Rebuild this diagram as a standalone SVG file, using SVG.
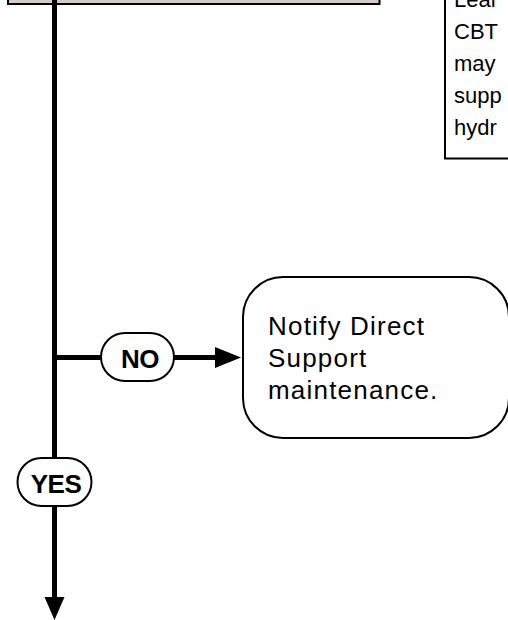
<svg xmlns="http://www.w3.org/2000/svg" width="508" height="620" viewBox="0 0 508 620">
<style>
.box{stroke:#000;stroke-width:2;fill:#fff}
.line{stroke:#000;stroke-width:5;fill:none}
.note{font-family:"Liberation Sans",Arial,sans-serif;font-size:22px;fill:#000}
.txt{font-family:"Liberation Sans",Arial,sans-serif;font-size:26px;letter-spacing:1.2px;fill:#000}
.lbl{font-family:"Liberation Sans",Arial,sans-serif;font-size:26px;font-weight:bold;letter-spacing:-0.5px;fill:#000;text-anchor:middle}
</style>
<rect width="508" height="620" fill="#fff"/>
<g id="top-box">
<rect x="8" y="-20" width="371.5" height="24" fill="#d3cbc4" stroke="#000" stroke-width="2"/>
</g>
<g id="note">
<rect class="box" x="445" y="-40" width="90" height="198.5"/>
<text class="note" x="454" y="7">Lear</text>
<text class="note" x="454" y="39">CBT</text>
<text class="note" x="454" y="71">may</text>
<text class="note" x="454" y="103">supp</text>
<text class="note" x="454" y="135">hydr</text>
</g>
<g id="connectors">
<line class="line" x1="54.5" y1="0" x2="54.5" y2="600"/>
<line class="line" x1="54.5" y1="357.5" x2="218" y2="357.5"/>
<polygon points="215,347 241,357.5 215,368" fill="#000"/>
<polygon points="44.5,597 64.5,597 54.5,620" fill="#000"/>
</g>
<g id="no-label">
<rect class="box" x="101" y="333" width="73" height="48" rx="24"/>
<text class="lbl" x="140" y="368">NO</text>
</g>
<g id="yes-label">
<rect class="box" x="17.5" y="458" width="74" height="48" rx="24"/>
<text class="lbl" x="56" y="493">YES</text>
</g>
<g id="notify">
<rect class="box" x="243" y="277" width="266" height="161" rx="40"/>
<text class="txt" x="268" y="335">Notify Direct</text>
<text class="txt" x="268" y="367">Support</text>
<text class="txt" x="268" y="399">maintenance.</text>
</g>
</svg>
